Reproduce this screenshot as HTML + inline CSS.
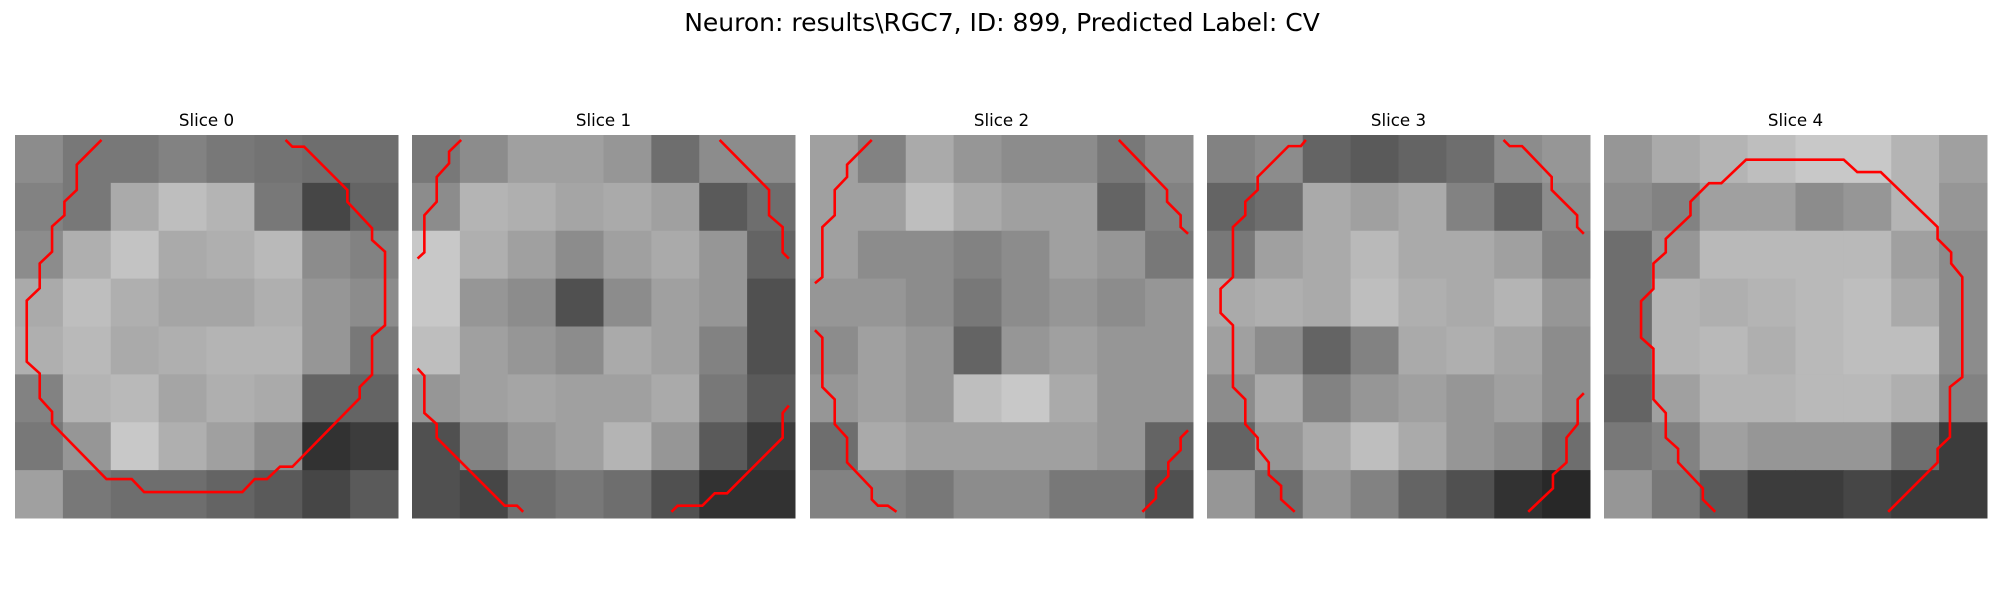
<!DOCTYPE html>
<html><head><meta charset="utf-8"><style>
html,body{margin:0;padding:0;background:#fff;width:2000px;height:600px;overflow:hidden}
svg{display:block}
text{font-family:"DejaVu Sans","Liberation Sans",sans-serif;fill:#000}
</style></head><body>
<svg id="fig" width="2000" height="600" viewBox="0 0 2000 600" xmlns="http://www.w3.org/2000/svg">
<text x="1002" y="31" font-size="25" text-anchor="middle">Neuron: results\RGC7, ID: 899, Predicted Label: CV</text>
</svg>
<script>
const sliceTitles = ["Slice 0","Slice 1","Slice 2","Slice 3","Slice 4"];
const panelLefts = [15, 412, 810, 1207, 1604];
// coarse intensity grids (8x8) per slice
const img0 = [[140,120,120,130,120,115,110,110],[130,120,170,190,180,120,70,100],[140,175,195,170,175,185,140,130],[170,190,175,165,165,175,150,140],[175,185,170,175,180,180,150,120],[130,180,185,165,175,170,100,100],[120,150,200,175,160,140,50,60],[160,120,110,110,100,90,70,90]];
const img1 = [[120,140,160,160,150,110,140,140],[140,180,175,165,170,160,90,110],[200,175,160,140,160,170,150,100],[200,150,140,80,140,160,150,80],[190,160,150,140,170,160,130,80],[150,160,165,160,160,170,120,90],[80,130,150,160,180,150,90,60],[80,70,110,120,110,80,50,50]];
const img2 = [[160,130,170,150,140,140,120,140],[160,160,190,170,160,160,100,130],[160,140,140,130,140,160,150,120],[150,150,140,120,140,150,140,150],[140,160,150,100,150,160,150,150],[150,160,150,190,200,170,150,150],[110,170,160,160,160,160,150,100],[130,130,120,140,140,120,120,80]];
const img3 = [[130,140,100,90,100,110,140,150],[100,110,170,160,170,130,100,140],[120,160,170,185,170,170,160,130],[170,175,170,190,175,170,180,150],[160,140,100,130,170,175,165,140],[140,170,130,150,160,150,160,140],[100,150,170,190,170,150,140,110],[150,110,150,130,100,80,50,40]];
const img4 = [[150,170,180,190,200,200,180,160],[140,130,160,160,140,150,180,150],[110,150,185,185,185,185,160,140],[110,180,175,180,185,190,170,140],[110,180,185,175,185,190,190,140],[100,160,180,180,185,185,175,130],[120,130,160,150,150,150,110,60],[150,120,90,60,60,70,60,60]];
// contour polylines in image units (0..31)
const cont0 = [[[7,0.4],[5,2.4],[5,4.45],[4,5.4],[4,6.5],[3,7.4],[3,9.45],[2,10.4],[2,12.4],[0.95,13.4],[0.95,18.35],[2,19.3],[2,21.3],[3,22.4],[3,23.35],[7.4,27.85],[9.45,27.85],[10.45,28.9],[18.4,28.9],[19.4,27.85],[20.4,27.85],[21.45,26.85],[22.45,26.85],[27.9,21.3],[27.9,20.4],[28.9,19.4],[28.9,16.3],[29.95,15.4],[29.95,9.45],[28.9,8.5],[28.9,7.55],[26.9,5.4],[26.9,4.45],[23.4,0.95],[22.45,0.95],[21.9,0.4]]];
const cont1 = [[[3.98,0.4],[3,1.35],[3,2.3],[2,3.4],[2,5.4],[1,6.5],[1,9.5],[0.45,10]],[[24.9,0.4],[28.9,4.45],[28.9,6.5],[30,7.45],[30,9.5],[30.5,10]],[[0.45,18.9],[1,19.5],[1,22.5],[2,23.4],[2,24.5],[7.5,30],[8.5,30],[9,30.5]],[[21,30.5],[21.5,30],[23.5,30],[24.5,29],[25.5,29],[30,24.5],[30,22.5],[30.5,21.9]]];
const cont2 = [[[5,0.4],[3,2.4],[3,3.4],[2,4.45],[2,6.5],[1,7.45],[1,11.5],[0.4,12]],[[25,0.4],[28.9,4.45],[28.9,5.4],[30,6.5],[30,7.45],[30.6,8]],[[0.4,15.8],[1,16.4],[1,20.4],[2,21.4],[2,23.4],[3,24.5],[3,26.5],[5,28.6],[5,29.5],[5.5,30],[6.3,30],[7,30.5]],[[26.9,30.5],[28,29.4],[28,28.6],[29,27.6],[29,26.5],[30,25.5],[30,24.5],[30.6,23.9]]];
const cont3 = [[[8,0.4],[7.6,0.9],[6.6,0.9],[4.1,3.4],[4.1,4.45],[3.1,5.4],[3.1,6.5],[2.1,7.45],[2.1,11.5],[1.1,12.45],[1.1,14.4],[2.1,15.4],[2.1,20.4],[3.1,21.4],[3.1,23.4],[4.1,24.5],[4.1,25.4],[5,26.5],[5,27.5],[6,28.4],[6,29.5],[7.1,30.5]],[[24,0.4],[24.5,0.9],[25.5,0.9],[27.9,3.4],[27.9,4.45],[29.96,6.5],[29.96,7.45],[30.5,8]],[[30.5,20.9],[30,21.4],[30,23.4],[29.1,24.5],[29.1,26.5],[28,27.5],[28,28.6],[26,30.5]]];
const cont4 = [[[9,30.5],[8,29.5],[8,28.6],[6,26.5],[6,25.4],[5,24.5],[5,22.5],[4,21.4],[4,17.3],[3,16.4],[3,13.45],[4,12.45],[4,10.4],[5,9.5],[5,8.4],[7,6.5],[7,5.4],[8.5,3.9],[9.5,3.9],[11.5,2],[19.4,2],[20.5,3],[22.4,3],[27,7.45],[27,8.4],[28.1,9.5],[28.1,10.4],[29,11.5],[29,19.6],[28,20.4],[28,24.45],[27,25.4],[27,26.5],[23,30.5]]];
const images = [img0,img1,img2,img3,img4];
const contours = [cont0,cont1,cont2,cont3,cont4];

const NS = "http://www.w3.org/2000/svg";
const svg = document.getElementById('fig');
const SIZE = 383, TOP = 135, UNITS = 31;
function ux(p, u){ return panelLefts[p] + u*SIZE/UNITS; }
function uy(u){ return TOP + u*SIZE/UNITS; }

sliceTitles.forEach((t, p) => {
  const g = document.createElementNS(NS, 'g');
  
  
  svg.appendChild(g);
  const title = document.createElementNS(NS, 'text');
  
  
  title.setAttribute('x', panelLefts[p] + SIZE/2);
  title.setAttribute('y', 126);
  title.setAttribute('font-size', '16.7');
  title.setAttribute('text-anchor', 'middle');
  title.textContent = t;
  g.appendChild(title);
  const grid = images[p];
  const n = grid.length, cs = SIZE / n;
  grid.forEach((row, r) => row.forEach((v, c) => {
    const rect = document.createElementNS(NS, 'rect');
    
    
    rect.setAttribute('x', panelLefts[p] + c*cs);
    rect.setAttribute('y', TOP + r*cs);
    rect.setAttribute('width', cs + 0.5);
    rect.setAttribute('height', cs + 0.5);
    rect.setAttribute('fill', `rgb(${v},${v},${v})`);
    g.appendChild(rect);
  }));
  contours[p].forEach(seg => {
    const pl = document.createElementNS(NS, 'polyline');
    
    
    pl.setAttribute('points', seg.map(q => ux(p, q[0]) + ',' + uy(q[1])).join(' '));
    pl.setAttribute('fill', 'none');
    pl.setAttribute('stroke', '#ff0000');
    pl.setAttribute('stroke-width', '2.6');
    g.appendChild(pl);
  });
});
</script>
</body></html>
